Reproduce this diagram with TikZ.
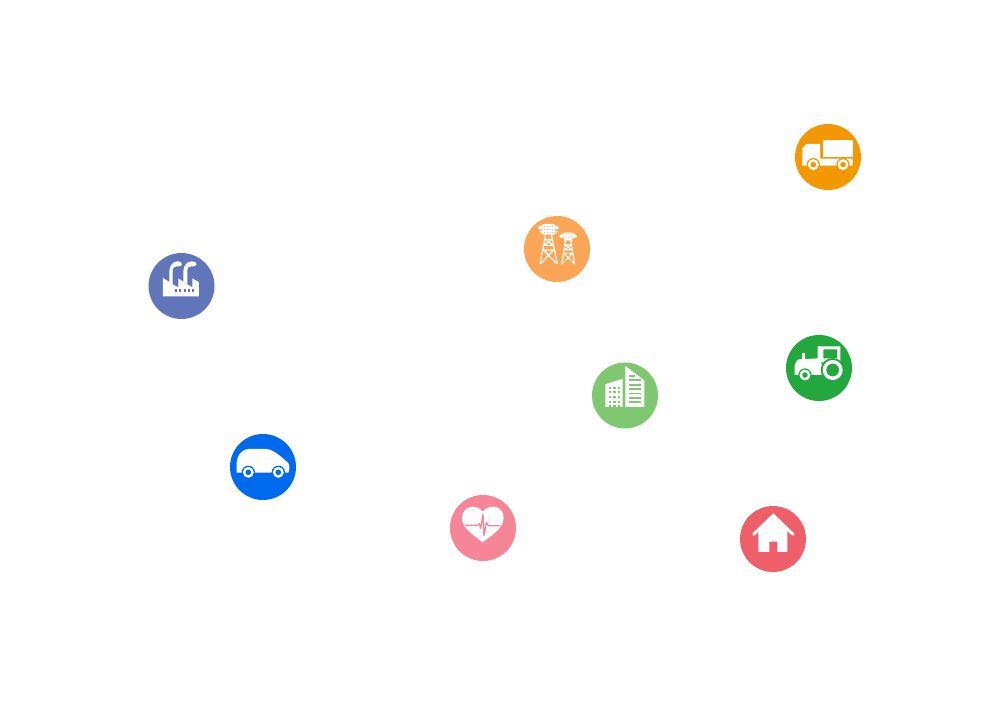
\documentclass[tikz,border=0pt]{standalone}
\definecolor{cTruck}{HTML}{F39800}
\definecolor{cTower}{HTML}{FBA556}
\definecolor{cFactory}{HTML}{6176B9}
\definecolor{cTractor}{HTML}{22A83C}
\definecolor{cBuild}{HTML}{7FC770}
\definecolor{cCar}{HTML}{006AEE}
\definecolor{cHeart}{HTML}{F68595}
\definecolor{cHouse}{HTML}{EF5F69}
\tikzset{
  disc/.style={circle,minimum size=66pt,inner sep=0pt,fill=#1},
  icon/.style={shift={#1},x=0.3333pt,y=-0.3333pt},
  ink/.style={fill=white,draw=none},
  wire/.style={draw=white,line width=1.15pt},
}
\newcommand{\wheelat}[4]{% x y outer-r colour
  \fill[#4] (#1,#2) circle (#3);
  \fill[white] (#1,#2) circle (#3*0.82);
  \fill[#4] (#1,#2) circle (#3*0.42);
}
\begin{document}
\begin{tikzpicture}[x=1pt,y=-1pt]
\useasboundingbox (0,0) rectangle (999,711);
\fill[white] (0,0) rectangle (999,711);
\node[disc=cTruck] (truck) at (828,157) {};
\node[disc=cTower] (tower) at (557,249) {};
\node[disc=cFactory] (factory) at (181.5,286) {};
\node[disc=cTractor] (tractor) at (819,368) {};
\node[disc=cBuild] (building) at (625,395.5) {};
\node[disc=cCar] (car) at (263,467) {};
\node[disc=cHeart] (heart) at (483,528) {};
\node[disc=cHouse] (house) at (773,539) {};
% truck
\begin{scope}[icon={(785,114)}]
\fill[ink] (52,155) -- (52,102) to[out=-90,in=180] (66,90) -- (105,90) -- (105,134) -- (203,134) -- (203,155) -- cycle;
\fill[ink] (113,78) rectangle (203,130);
\wheelat{85}{152}{20}{cTruck}
\wheelat{174}{152}{20}{cTruck}
\end{scope}
% towers
\begin{scope}[icon={(514,206)}]
\fill[ink] (72,63) -- (90,54) -- (116,54) -- (135,63) -- (135,68) -- (118,72) -- (132,76) -- (120,86) -- (87,86) -- (75,76) -- (89,72) -- (72,68) -- cycle;
\foreach \y in {61,70,79}{\foreach \x in {84,92,100,108,116,124}{\fill[cTower] (\x,\y) circle (1.6);}}
\fill[ink] (137,88) -- (150,80) -- (175,80) -- (188,88) -- (188,94) -- (174,98) -- (176,104) -- (149,104) -- (151,98) -- (137,94) -- cycle;
\foreach \y in {87,95}{\foreach \x in {148,156,164,172,180}{\fill[cTower] (\x,\y) circle (1.5);}}
\draw[wire] (95,84) -- (78,174) (112,84) -- (130,174) (93,100) -- (114,100) (90,118) -- (117,118) (93,100) -- (117,118) (114,100) -- (90,118) (88,132) -- (119,132) (88,132) -- (127,172) (119,132) -- (81,172);
\draw[wire,line width=1pt] (155,102) -- (143,175) (170,102) -- (182,175) (153,116) -- (172,116) (151,132) -- (174,132) (153,116) -- (174,132) (172,116) -- (151,132) (150,142) -- (176,142) (150,142) -- (180,172) (176,142) -- (145,172);
\end{scope}
% factory
\begin{scope}[icon={(139,243)}]
\fill[ink] (72,160) -- (72,105) -- (91,117) -- (91,85) .. controls (91,66) and (104,55) .. (116,55) .. controls (124,55) and (130,58) .. (129,64) .. controls (128,70) and (120,71) .. (113,70) .. controls (106,69) and (101,74) .. (101,85) -- (101,124) -- (118,133) -- (118,106) -- (133,116) -- (133,85) .. controls (133,66) and (146,55) .. (158,55) .. controls (166,55) and (174,58) .. (173,64) .. controls (172,70) and (164,71) .. (157,70) .. controls (150,69) and (145,74) .. (145,85) -- (145,124) -- (160,133) -- (160,106) -- (180,118) -- (180,160) -- cycle;
\foreach \x in {108,121,134,147,160}{\fill[cFactory] (\x,139) rectangle +(6,7);}
\end{scope}
% tractor
\begin{scope}[icon={(776,325)}]
\fill[ink,even odd rule] (125,64) rectangle (193,112) (142,73) rectangle (183,100);
\fill[ink] (125,64) rectangle (135,150);
\fill[ink] (79,84) rectangle (86,105);
\fill[ink] (56,150) -- (56,118) to[out=-90,in=180] (68,103) -- (130,100) -- (150,150) -- cycle;
\fill[cTractor] (170,135) circle (36);
\fill[white] (170,135) circle (30);
\fill[cTractor] (170,135) circle (19);
\wheelat{87}{150}{20}{cTractor}
\end{scope}
% buildings
\begin{scope}[icon={(582,352)}]
\fill[ink] (70,165) -- (70,97) -- (122,80) -- (122,165) -- cycle;
\foreach \y in {104,118,132,146,159}{\foreach \x in {80,94,107}{\fill[cBuild] (\x,\y) rectangle +(7,6);}}
\fill[ink] (130,165) -- (130,42) -- (187,85) -- (187,165) -- cycle;
\fill[cBuild] (140,69) rectangle (158,74);
\fill[cBuild] (140,82) rectangle (176,87);
\foreach \y in {96,109,122,135,148}{\fill[cBuild] (140,\y) rectangle (177,\y+5.5);}
\end{scope}
% car
\begin{scope}[icon={(220,424)}]
\fill[ink] (50,146) -- (50,115) .. controls (52,95) and (62,78) .. (85,75) -- (140,75) .. controls (165,78) and (190,105) .. (205,117) .. controls (210,125) and (208,140) .. (205,146) -- cycle;
\wheelat{85}{145}{20}{cCar}
\wheelat{175}{145}{20}{cCar}
\end{scope}
% heart
\begin{scope}[icon={(440,485)}]
\fill[ink] (128,172) .. controls (100,150) and (66,130) .. (66,98) .. controls (66,78) and (82,65) .. (98,65) .. controls (112,65) and (122,72) .. (128,80) .. controls (134,72) and (146,65) .. (160,65) .. controls (176,65) and (191,78) .. (191,98) .. controls (191,130) and (156,150) .. (128,172) -- cycle;
\draw[cHeart,line width=1.3pt,line join=round] (76,121) -- (112,121) -- (118,116) -- (122,130) -- (129,88) -- (132,152) -- (139,112) -- (145,122) -- (181,122);
\end{scope}
% house
\begin{scope}[icon={(730,496)}]
\fill[ink] (85,168) -- (85,100) -- (130,60) -- (172,100) -- (172,168) -- (142,168) -- (142,137) -- (118,137) -- (118,168) -- cycle;
\draw[white,line width=3pt,line cap=round,line join=miter] (71,115) -- (130,58) -- (189,115);
\end{scope}
\end{tikzpicture}
\end{document}
